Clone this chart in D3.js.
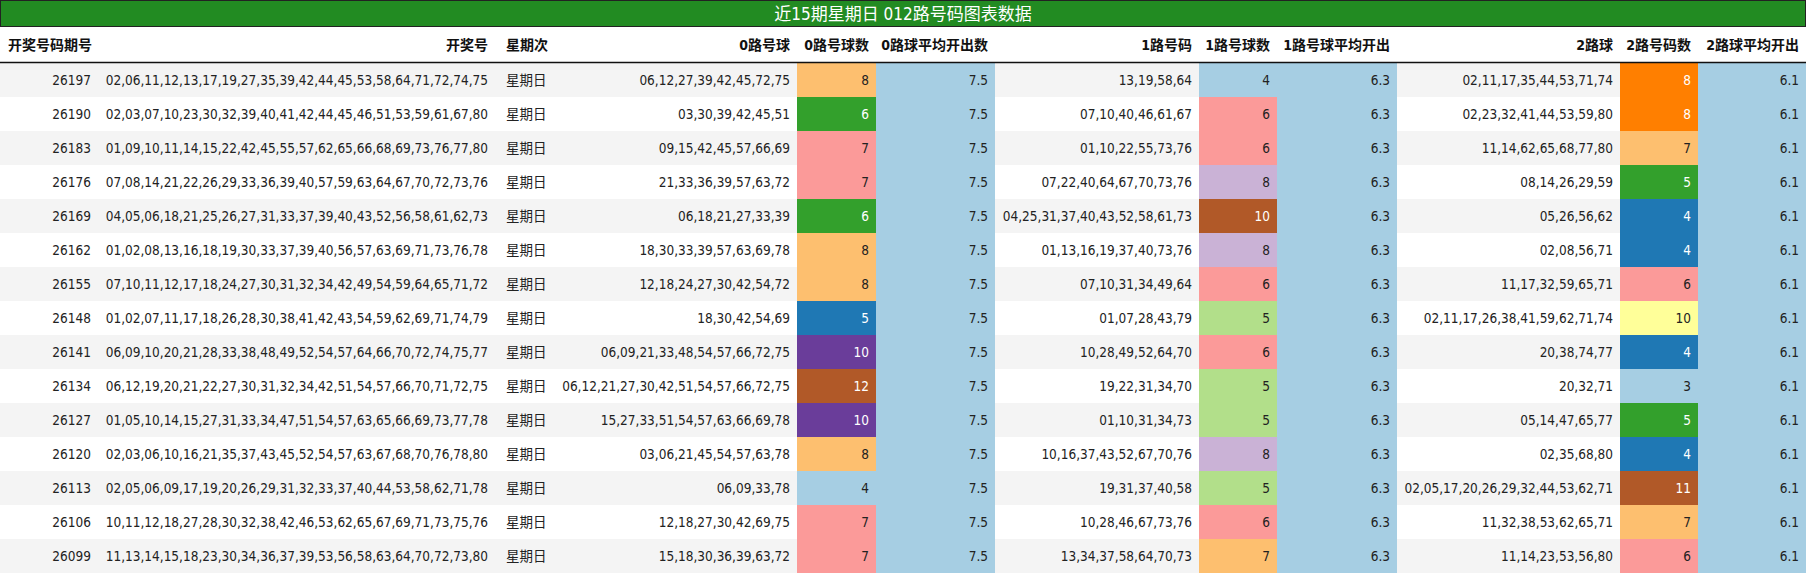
<!DOCTYPE html>
<html><head><meta charset="utf-8">
<script src="https://cdn.jsdelivr.net/npm/d3@7"></script>
<style>body{margin:0;background:#fff}svg{display:block}</style>
</head><body><svg id="c" width="1806" height="574"></svg>
<script>
const title = "近15期星期日 012路号码图表数据";
const headers = ["开奖号码期号","开奖号","星期次","0路号球","0路号球数","0路球平均开出数","1路号码","1路号球数","1路号球平均开出","2路球","2路号码数","2路球平均开出"];
const issues = ["26197","26190","26183","26176","26169","26162","26155","26148","26141","26134","26127","26120","26113","26106","26099"];
const draws = [
"02,06,11,12,13,17,19,27,35,39,42,44,45,53,58,64,71,72,74,75",
"02,03,07,10,23,30,32,39,40,41,42,44,45,46,51,53,59,61,67,80",
"01,09,10,11,14,15,22,42,45,55,57,62,65,66,68,69,73,76,77,80",
"07,08,14,21,22,26,29,33,36,39,40,57,59,63,64,67,70,72,73,76",
"04,05,06,18,21,25,26,27,31,33,37,39,40,43,52,56,58,61,62,73",
"01,02,08,13,16,18,19,30,33,37,39,40,56,57,63,69,71,73,76,78",
"07,10,11,12,17,18,24,27,30,31,32,34,42,49,54,59,64,65,71,72",
"01,02,07,11,17,18,26,28,30,38,41,42,43,54,59,62,69,71,74,79",
"06,09,10,20,21,28,33,38,48,49,52,54,57,64,66,70,72,74,75,77",
"06,12,19,20,21,22,27,30,31,32,34,42,51,54,57,66,70,71,72,75",
"01,05,10,14,15,27,31,33,34,47,51,54,57,63,65,66,69,73,77,78",
"02,03,06,10,16,21,35,37,43,45,52,54,57,63,67,68,70,76,78,80",
"02,05,06,09,17,19,20,26,29,31,32,33,37,40,44,53,58,62,71,78",
"10,11,12,18,27,28,30,32,38,42,46,53,62,65,67,69,71,73,75,76",
"11,13,14,15,18,23,30,34,36,37,39,53,56,58,63,64,70,72,73,80"];
const weekday = "星期日";
const road0 = ["06,12,27,39,42,45,72,75","03,30,39,42,45,51","09,15,42,45,57,66,69","21,33,36,39,57,63,72","06,18,21,27,33,39","18,30,33,39,57,63,69,78","12,18,24,27,30,42,54,72","18,30,42,54,69","06,09,21,33,48,54,57,66,72,75","06,12,21,27,30,42,51,54,57,66,72,75","15,27,33,51,54,57,63,66,69,78","03,06,21,45,54,57,63,78","06,09,33,78","12,18,27,30,42,69,75","15,18,30,36,39,63,72"];
const count0 = [8,6,7,7,6,8,8,5,10,12,10,8,4,7,7];
const avg0 = "7.5";
const road1 = ["13,19,58,64","07,10,40,46,61,67","01,10,22,55,73,76","07,22,40,64,67,70,73,76","04,25,31,37,40,43,52,58,61,73","01,13,16,19,37,40,73,76","07,10,31,34,49,64","01,07,28,43,79","10,28,49,52,64,70","19,22,31,34,70","01,10,31,34,73","10,16,37,43,52,67,70,76","19,31,37,40,58","10,28,46,67,73,76","13,34,37,58,64,70,73"];
const count1 = [4,6,6,8,10,8,6,5,6,5,5,8,5,6,7];
const avg1 = "6.3";
const road2 = ["02,11,17,35,44,53,71,74","02,23,32,41,44,53,59,80","11,14,62,65,68,77,80","08,14,26,29,59","05,26,56,62","02,08,56,71","11,17,32,59,65,71","02,11,17,26,38,41,59,62,71,74","20,38,74,77","20,32,71","05,14,47,65,77","02,35,68,80","02,05,17,20,26,29,32,44,53,62,71","11,32,38,53,62,65,71","11,14,23,53,56,80"];
const count2 = [8,8,7,5,4,4,6,10,4,3,5,4,11,7,6];
const avg2 = "6.1";

const W=1806, titleH=27, headH=35, top0=63, rowH=34;
const edges=[0,98,495,553,797,876,995,1199,1277,1397,1620,1698,1806];
const svg=d3.select("#c");
const font="'DejaVu Sans Condensed','Noto Sans CJK SC',sans-serif";
const x=d3.scaleOrdinal().domain(d3.range(12)).range(edges.slice(0,12));
const y=d3.scaleBand().domain(d3.range(issues.length)).range([top0, top0+rowH*issues.length]);

svg.append("rect").attr("x",0.5).attr("y",0.5).attr("width",W-1).attr("height",titleH-1).attr("fill","#228b22").attr("stroke","#222");
svg.append("text").attr("x",W/2).attr("y",titleH/2+1).attr("text-anchor","middle").attr("dominant-baseline","middle")
 .attr("fill","#fff").attr("font-family",font).attr("font-size",17).text(title);

const counts=[count0,count1,count2];
const scales=counts.map(c=>d3.scaleQuantize().domain(d3.extent(c)).range(d3.schemePaired));

const rows=issues.map((iss,i)=>[iss,draws[i],weekday,road0[i],count0[i],avg0,road1[i],count1[i],avg1,road2[i],count2[i],avg2]);
const g=svg.append("g");
rows.forEach((r,i)=>{
  const yy=y(i);
  g.append("rect").attr("x",0).attr("y",yy).attr("width",W).attr("height",rowH).attr("fill",i%2===0?"#f4f4f4":"#ffffff");
  r.forEach((v,j)=>{
    const x0=edges[j], x1=edges[j+1];
    let fill=null, tc="#222";
    if(j===5||j===8||j===11) fill="#a6cee3";
    if(j===4||j===7||j===10){
      const s=scales[(j-4)/3]; fill=s(v);
      tc=(d3.schemePaired.indexOf(fill)%2===1)?"#fff":"#222";
    }
    if(fill) g.append("rect").attr("x",x0).attr("y",yy).attr("width",x1-x0).attr("height",rowH).attr("fill",fill);
    const left=(j===2);
    g.append("text").attr("x",left?x0+11:x1-7).attr("y",yy+rowH/2+1)
     .attr("text-anchor",left?"start":"end").attr("dominant-baseline","middle")
     .attr("font-family",font).attr("font-size",13.5).attr("fill",tc).text(v);
  });
});
headers.forEach((h,j)=>{
  const left=(j===0||j===2);
  svg.append("text").attr("x",j===0?8:(left?edges[j]+11:edges[j+1]-7)).attr("y",titleH+headH/2+1)
   .attr("text-anchor",left?"start":"end").attr("dominant-baseline","middle")
   .attr("font-family",font).attr("font-size",14).attr("font-weight","bold").attr("fill","#111").text(h);
});
svg.append("line").attr("x1",0).attr("x2",W).attr("y1",top0-0.5).attr("y2",top0-0.5).attr("stroke","#111").attr("stroke-width",1.5);
</script></body></html>
